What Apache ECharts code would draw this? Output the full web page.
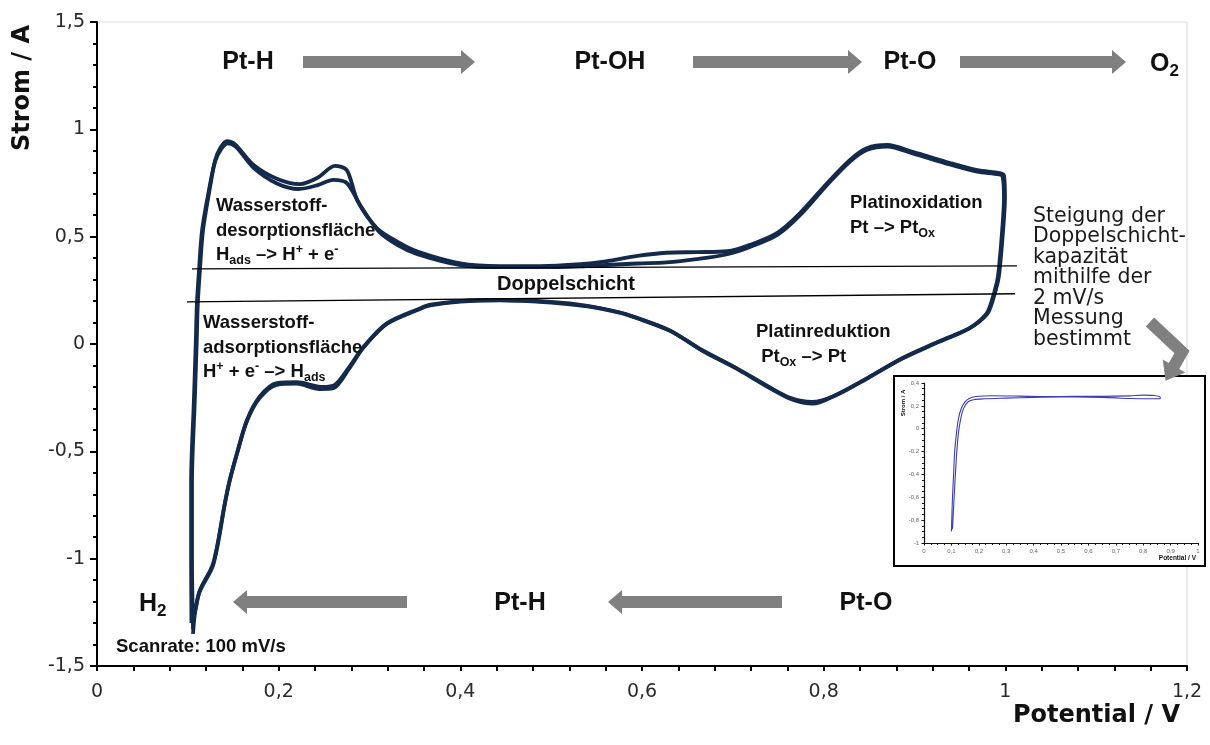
<!DOCTYPE html>
<html>
<head>
<meta charset="utf-8">
<script src="https://cdn.jsdelivr.net/npm/echarts@6/dist/echarts.min.js"></script>
<style>
  html, body { margin: 0; padding: 0; background: #fff; }
  #chart { width: 1210px; height: 745px; }
</style>
</head>
<body>
<div id="chart"></div>
<script>
// Axis ranges (potential in V, current in A)
const potentialRange = [0, 1.2];
const currentRange = [-1.5, 1.5];
const insetPotentialRange = [0, 1];
const insetCurrentRange = [-1, 0.4];

// Cyclic voltammogram of Pt, 100 mV/s: two consecutive cycles [potential, current]
const cycleOuter = [
  [0.1057,-1.33],[0.1046,-1.0],[0.1046,-0.64],[0.1076,-0.27],[0.1097,0.0],[0.111,0.19],[0.1134,0.35],
  [0.1167,0.53],[0.1244,0.73],[0.130,0.855],[0.136,0.915],[0.143,0.945],[0.152,0.93],[0.172,0.835],
  [0.198,0.77],[0.2235,0.745],[0.243,0.775],[0.262,0.83],[0.275,0.81],[0.287,0.665],[0.308,0.54],
  [0.330,0.478],[0.352,0.432],[0.40,0.376],[0.444,0.363],[0.488,0.363],[0.532,0.372],[0.56,0.385],
  [0.595,0.41],[0.627,0.425],[0.66,0.428],[0.694,0.432],[0.719,0.462],[0.749,0.518],[0.774,0.61],
  [0.804,0.75],[0.829,0.858],[0.848,0.913],[0.870,0.927],[0.898,0.895],[0.939,0.843],[0.969,0.81],
  [0.994,0.796],[0.9985,0.785],[0.9996,0.682],[0.9975,0.528],[0.994,0.355],[0.992,0.294],[0.986,0.201],
  [0.98,0.14],[0.961,0.075],[0.928,0.014],[0.887,-0.065],[0.848,-0.159],[0.815,-0.234],[0.788,-0.278],
  [0.766,-0.26],[0.741,-0.206],[0.705,-0.117],[0.667,-0.033],[0.631,0.061],[0.594,0.121],[0.576,0.145],
  [0.54,0.175],[0.50,0.193],[0.444,0.203],[0.40,0.197],[0.367,0.18],[0.356,0.164],[0.319,0.093],
  [0.293,-0.019],[0.278,-0.112],[0.260,-0.206],[0.245,-0.21],[0.22,-0.185],[0.198,-0.19],[0.179,-0.252],
  [0.165,-0.36],[0.154,-0.514],[0.146,-0.64],[0.141,-0.74],[0.128,-1.028],[0.113,-1.154],[0.108,-1.248],
  [0.1057,-1.35]
];
const cycleInner = [
  [0.104,-1.3],[0.1036,-1.0],[0.1036,-0.64],[0.1066,-0.27],[0.1087,0.0],[0.110,0.19],[0.1124,0.35],
  [0.1157,0.53],[0.1234,0.72],[0.130,0.85],[0.137,0.91],[0.144,0.935],[0.153,0.918],[0.173,0.818],
  [0.198,0.748],[0.222,0.722],[0.243,0.74],[0.26,0.765],[0.275,0.75],[0.29,0.645],[0.31,0.525],
  [0.33,0.463],[0.352,0.42],[0.40,0.368],[0.444,0.358],[0.488,0.358],[0.532,0.362],[0.56,0.368],
  [0.595,0.375],[0.627,0.38],[0.66,0.395],[0.694,0.418],[0.719,0.452],[0.749,0.508],[0.774,0.6],
  [0.804,0.742],[0.829,0.85],[0.848,0.905],[0.870,0.92],[0.898,0.888],[0.939,0.836],[0.969,0.803],
  [0.993,0.79],[0.997,0.78],[0.9985,0.68],[0.9965,0.528],[0.993,0.355],[0.991,0.294],[0.985,0.201],
  [0.979,0.14],[0.960,0.072],[0.927,0.01],[0.886,-0.069],[0.847,-0.163],[0.813,-0.24],[0.787,-0.27],
  [0.764,-0.252],[0.74,-0.2],[0.704,-0.112],[0.666,-0.028],[0.63,0.064],[0.593,0.124],[0.575,0.148],
  [0.54,0.178],[0.50,0.196],[0.444,0.205],[0.40,0.2],[0.367,0.183],[0.356,0.167],[0.319,0.096],
  [0.293,-0.015],[0.278,-0.105],[0.262,-0.19],[0.248,-0.2],[0.22,-0.178],[0.198,-0.182],[0.179,-0.245],
  [0.165,-0.355],[0.154,-0.51],[0.146,-0.635],[0.141,-0.735],[0.128,-1.02],[0.113,-1.15],[0.108,-1.245],
  [0.1045,-1.3]
];

// Double-layer baselines of the anodic and cathodic scans
const baselineAnodic = [[0.1046, 0.350], [1.0128, 0.364]];
const baselineCathodic = [[0.0991, 0.196], [1.0106, 0.234]];

// Slow scan (2 mV/s) used for the double-layer capacitance
const slowScan = [
  [0.1,-0.9],[0.104,-0.6],[0.108,-0.4],[0.112,-0.2],[0.118,-0.05],[0.125,0.08],[0.135,0.17],[0.148,0.23],
  [0.165,0.265],[0.19,0.282],[0.25,0.288],[0.35,0.285],[0.45,0.281],[0.55,0.284],[0.65,0.283],[0.75,0.287],
  [0.8,0.294],[0.84,0.29],[0.862,0.275],[0.862,0.262],[0.84,0.262],[0.75,0.264],[0.7,0.27],[0.6,0.276],
  [0.5,0.277],[0.4,0.274],[0.3,0.268],[0.22,0.262],[0.18,0.254],[0.16,0.234],[0.145,0.18],[0.135,0.1],
  [0.125,-0.05],[0.117,-0.3],[0.11,-0.6],[0.104,-0.88]
];

const decimalComma = v => String(+v.toFixed(2)).replace('.', ',');

const tickFont = { fontFamily: 'DejaVu Sans', fontSize: 19, color: '#2a2a2a' };
const grey = '#808080';
const ink = '#111';

const chart = echarts.init(document.getElementById('chart'), null, { renderer: 'canvas' });

// Rich-text styles for labels with sub-/superscripts
function richStyles(size, subSize) {
  const base = { fontFamily: 'Liberation Sans', fontWeight: 'bold', fill: ink };
  return {
    b: Object.assign({ fontSize: size, lineHeight: size + 6 }, base),
    t: Object.assign({ fontSize: size, lineHeight: size + 6 }, base),
    sub: Object.assign({ fontSize: subSize, lineHeight: subSize, verticalAlign: 'bottom' }, base),
    sup: Object.assign({ fontSize: subSize, lineHeight: subSize, verticalAlign: 'top' }, base)
  };
}

function label(x, y, text, opts) {
  opts = opts || {};
  const size = opts.size || 18;
  return {
    type: 'text', x: x, y: y, z: 20, silent: true,
    style: {
      text: text,
      rich: richStyles(size, opts.subSize || Math.round(size * 0.68)),
      fontFamily: 'Liberation Sans', fontWeight: 'bold', fontSize: size,
      lineHeight: opts.lineHeight || size + 6,
      fill: ink,
      align: opts.align || 'left',
      verticalAlign: opts.vAlign || 'top'
    }
  };
}

function plainText(x, y, text, font, rotation) {
  return {
    type: 'text', x: x, y: y, z: 20, silent: true, rotation: rotation || 0,
    style: Object.assign({ text: text, fill: ink, align: 'left', verticalAlign: 'top' }, font)
  };
}

// Straight block arrow from (x0,y) to tip at (x1,y)
function arrow(x0, x1, y) {
  const dir = Math.sign(x1 - x0);
  const shaftHalf = 6, headHalf = 12, headLen = 14;
  const base = x1 - dir * headLen;
  return {
    type: 'polygon', z: 20, silent: true,
    shape: { points: [
      [x0, y - shaftHalf], [base, y - shaftHalf], [base, y - headHalf], [x1, y],
      [base, y + headHalf], [base, y + shaftHalf], [x0, y + shaftHalf]
    ] },
    style: { fill: grey }
  };
}

// Bent block arrow: shaft along the given points, head at the last segment
function bentArrow(points, headLen, headHalf) {
  const a = points[points.length - 2], b = points[points.length - 1];
  const len = Math.hypot(b[0] - a[0], b[1] - a[1]);
  const d = [(b[0] - a[0]) / len, (b[1] - a[1]) / len];
  const p = [-d[1], d[0]];
  const tip = [b[0] + d[0] * headLen, b[1] + d[1] * headLen];
  const shaft = points.slice(0, -1).concat([[b[0] + d[0] * 2, b[1] + d[1] * 2]]);
  return [
    { type: 'polyline', z: 20, silent: true, shape: { points: shaft },
      style: { stroke: grey, lineWidth: 12, fill: null, lineJoin: 'miter' } },
    { type: 'polygon', z: 20, silent: true,
      shape: { points: [
        [b[0] + p[0] * headHalf, b[1] + p[1] * headHalf], tip,
        [b[0] - p[0] * headHalf, b[1] - p[1] * headHalf]
      ] },
      style: { fill: grey } }
  ];
}

const graphics = [
  // Inset frame
  { type: 'rect', z: 5, silent: true, shape: { x: 894, y: 376, width: 311, height: 190 },
    style: { fill: '#fff', stroke: '#000', lineWidth: 2 } },

  // Axis titles
  plainText(23, 88, 'Strom / A', { fontFamily: 'DejaVu Sans', fontWeight: 'bold', fontSize: 24, align: 'center', verticalAlign: 'middle' }, Math.PI / 2),
  plainText(1180, 716, 'Potential / V', { fontFamily: 'DejaVu Sans', fontWeight: 'bold', fontSize: 24, align: 'right', verticalAlign: 'middle' }),

  // Surface species along the scan direction
  label(248, 62, '{t|Pt-H}', { size: 25, align: 'center', vAlign: 'middle' }),
  label(610, 62, '{t|Pt-OH}', { size: 25, align: 'center', vAlign: 'middle' }),
  label(910, 62, '{t|Pt-O}', { size: 25, align: 'center', vAlign: 'middle' }),
  label(1150, 64, '{b|O}{sub|2}', { size: 25, subSize: 17, vAlign: 'middle' }),
  label(139, 604, '{b|H}{sub|2}', { size: 25, subSize: 17, vAlign: 'middle' }),
  label(520, 603, '{t|Pt-H}', { size: 25, align: 'center', vAlign: 'middle' }),
  label(866, 603, '{t|Pt-O}', { size: 25, align: 'center', vAlign: 'middle' }),
  arrow(303, 475, 62),
  arrow(693, 862, 62),
  arrow(960, 1126, 62),
  arrow(407, 233, 602),
  arrow(782, 608, 602),

  // Region descriptions
  label(216, 194, '{b|Wasserstoff-}\n{b|desorptionsfläche}\n{b|H}{sub|ads}{b| –> H}{sup|+}{b| + e}{sup|-}', { size: 18.5, subSize: 12.5, lineHeight: 24.5 }),
  label(203, 311, '{b|Wasserstoff-}\n{b|adsorptionsfläche}\n{b|H}{sup|+}{b| + e}{sup|-}{b| –> H}{sub|ads}', { size: 18.5, subSize: 12.5, lineHeight: 24 }),
  label(566, 284, '{b|Doppelschicht}', { size: 20, align: 'center', vAlign: 'middle' }),
  label(850, 191, '{b|Platinoxidation}\n{b|Pt –> Pt}{sub|Ox}', { size: 18.5, subSize: 12.5, lineHeight: 24 }),
  label(756, 320, '{b|Platinreduktion}\n{b| Pt}{sub|Ox}{b| –> Pt}', { size: 18.5, subSize: 12.5, lineHeight: 24 }),
  label(116, 647, '{b|Scanrate: 100 mV/s}', { size: 18.5, vAlign: 'middle' }),

  // Note on the double-layer slope
  plainText(1033, 206, 'Steigung der\nDoppelschicht-\nkapazität\nmithilfe der\n2 mV/s\nMessung\nbestimmt',
    { fontFamily: 'DejaVu Sans', fontSize: 20.5, lineHeight: 20.5, fill: '#1a1a1a' }),

  // Bent arrow pointing to the inset
  ...bentArrow([[1150, 322], [1182, 352], [1174, 366]], 17, 13),

  // Inset axis titles
  plainText(903, 403, 'Strom / A', { fontFamily: 'Liberation Sans', fontWeight: 'bold', fontSize: 6, align: 'center', verticalAlign: 'middle' }, Math.PI / 2),
  plainText(1196, 558, 'Potential / V', { fontFamily: 'Liberation Sans', fontWeight: 'bold', fontSize: 6.5, align: 'right', verticalAlign: 'middle' })
];

const option = {
  animation: false,
  backgroundColor: '#fff',
  grid: [
    { left: 97, right: 23, top: 22, bottom: 79, show: true, borderColor: '#d9d9d9', borderWidth: 1, backgroundColor: 'transparent' },
    { left: 924, top: 383, width: 274, height: 160, z: 10 }
  ],
  xAxis: [
    {
      type: 'value', gridIndex: 0, min: potentialRange[0], max: potentialRange[1], interval: 0.2,
      axisLine: { show: true, onZero: false, lineStyle: { color: '#000', width: 2 } },
      axisTick: { show: true, length: 5, lineStyle: { color: '#000', width: 2 } },
      minorTick: { show: true, splitNumber: 5, length: 5, lineStyle: { color: '#000', width: 2 } },
      splitLine: { show: false },
      axisLabel: Object.assign({ margin: 17, formatter: decimalComma }, tickFont)
    },
    {
      type: 'value', gridIndex: 1, min: insetPotentialRange[0], max: insetPotentialRange[1], interval: 0.1, z: 10,
      axisLine: { show: true, onZero: false, lineStyle: { color: '#111', width: 1.2 } },
      axisTick: { show: true, length: 2.5, lineStyle: { color: '#111', width: 1 } },
      minorTick: { show: true, splitNumber: 4, length: 2, lineStyle: { color: '#111', width: 1 } },
      splitLine: { show: false },
      axisLabel: { margin: 5, fontSize: 6, color: '#666', fontFamily: 'Liberation Sans', formatter: decimalComma }
    }
  ],
  yAxis: [
    {
      type: 'value', gridIndex: 0, min: currentRange[0], max: currentRange[1], interval: 0.5,
      axisLine: { show: true, onZero: false, lineStyle: { color: '#000', width: 2 } },
      axisTick: { show: true, length: 7, lineStyle: { color: '#000', width: 2 } },
      minorTick: { show: true, splitNumber: 5, length: 4, lineStyle: { color: '#000', width: 2 } },
      splitLine: { show: false },
      axisLabel: Object.assign({ margin: 12, formatter: decimalComma }, tickFont)
    },
    {
      type: 'value', gridIndex: 1, min: insetCurrentRange[0], max: insetCurrentRange[1], interval: 0.2, z: 10,
      axisLine: { show: true, onZero: false, lineStyle: { color: '#111', width: 1.2 } },
      axisTick: { show: true, length: 2.5, lineStyle: { color: '#111', width: 1 } },
      minorTick: { show: true, splitNumber: 4, length: 2, lineStyle: { color: '#111', width: 1 } },
      splitLine: { show: false },
      axisLabel: { margin: 5, fontSize: 6, color: '#666', fontFamily: 'Liberation Sans', formatter: decimalComma }
    }
  ],
  series: [
    { name: 'Zyklus 1', type: 'line', xAxisIndex: 0, yAxisIndex: 0, data: cycleOuter, showSymbol: false, smooth: 0.3,
      silent: true, lineStyle: { color: '#142a4b', width: 3.8 } },
    { name: 'Zyklus 2', type: 'line', xAxisIndex: 0, yAxisIndex: 0, data: cycleInner, showSymbol: false, smooth: 0.3,
      silent: true, lineStyle: { color: '#142a4b', width: 3.8 } },
    { name: 'Doppelschicht anodisch', type: 'line', xAxisIndex: 0, yAxisIndex: 0, data: baselineAnodic, showSymbol: false,
      silent: true, lineStyle: { color: '#000', width: 1.3 } },
    { name: 'Doppelschicht kathodisch', type: 'line', xAxisIndex: 0, yAxisIndex: 0, data: baselineCathodic, showSymbol: false,
      silent: true, lineStyle: { color: '#000', width: 1.3 } },
    { name: '2 mV/s', type: 'line', xAxisIndex: 1, yAxisIndex: 1, data: slowScan, showSymbol: false, smooth: 0.3, z: 10,
      silent: true, lineStyle: { color: '#3d3db4', width: 1.1 } }
  ],
  graphic: { elements: graphics }
};

chart.setOption(option);
</script>
</body>
</html>
